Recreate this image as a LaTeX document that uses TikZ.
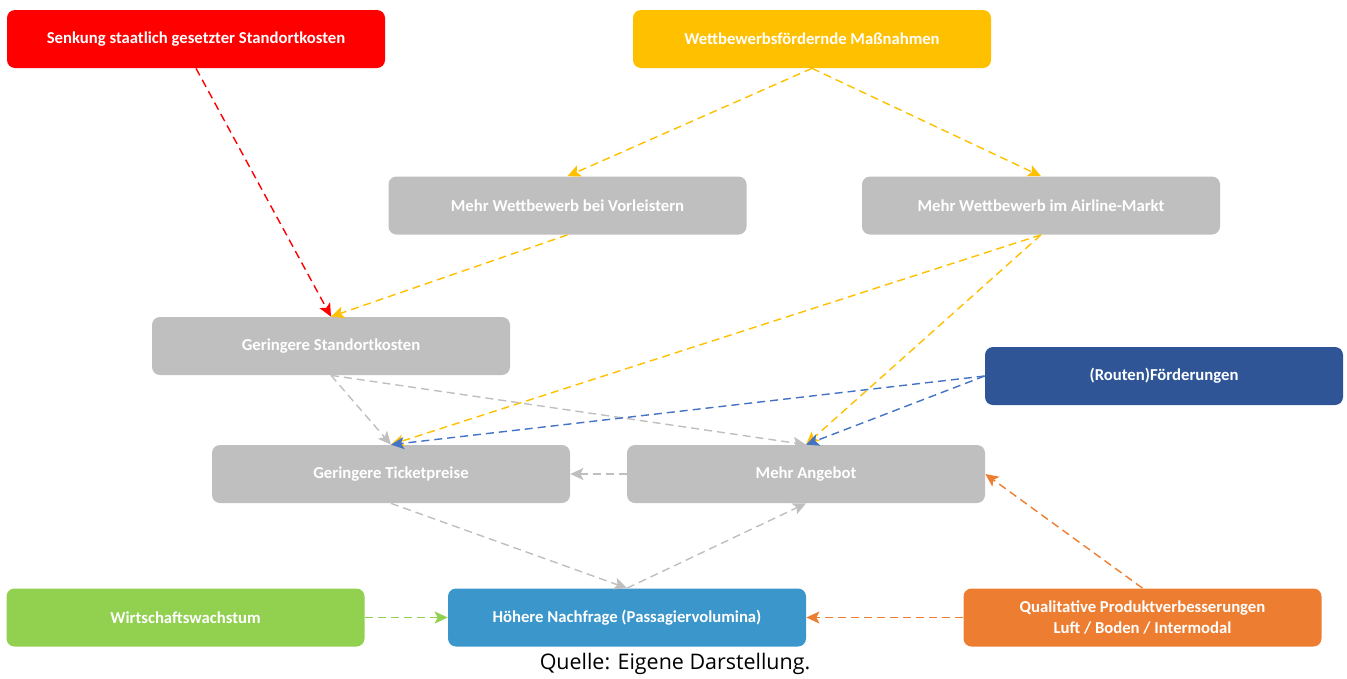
\documentclass[tikz,border=0pt]{standalone}
\usepackage{fontspec}
\setmainfont{Carlito}
\newfontfamily\captionfont{Open Sans}
\usetikzlibrary{arrows.meta}
\definecolor{senkred}{HTML}{FF0000}
\definecolor{wettyellow}{HTML}{FFC000}
\definecolor{boxgray}{HTML}{BFBFBF}
\definecolor{foerdblue}{HTML}{2F5597}
\definecolor{arrowblue}{HTML}{4472C4}
\definecolor{wachsgreen}{HTML}{92D050}
\definecolor{nachfblue}{HTML}{3A96CB}
\definecolor{qualorange}{HTML}{ED7D31}
\begin{document}
\begin{tikzpicture}[
  box/.style={rectangle, rounded corners=0.16cm, minimum width=7.16cm, minimum height=1.16cm,
    text=white, font=\fontsize{9.5}{11.5}\selectfont\bfseries, align=center, inner sep=0pt},
  link/.style={dash pattern=on 1.6mm off 1mm, line width=0.8pt, -{Stealth[length=2.6mm,width=2.4mm,inset=0.6mm]}}]
  \useasboundingbox (0,0) rectangle (26.94,-13.56);
  \node[box, fill=senkred, minimum width=7.56cm] (senk) at (3.92,-0.78) {Senkung staatlich gesetzter Standortkosten};
  \node[box, fill=wettyellow] (wett) at (16.24,-0.78) {Wettbewerbsfördernde Maßnahmen};
  \node[box, fill=boxgray] (vorl) at (11.35,-4.11) {Mehr Wettbewerb bei Vorleistern};
  \node[box, fill=boxgray] (airl) at (20.82,-4.11) {Mehr Wettbewerb im Airline-Markt};
  \node[box, fill=boxgray] (stand) at (6.62,-6.92) {Geringere Standortkosten};
  \node[box, fill=foerdblue] (foerd) at (23.28,-7.52) {(Routen)Förderungen};
  \node[box, fill=boxgray] (ticket) at (7.82,-9.48) {Geringere Ticketpreise};
  \node[box, fill=boxgray] (angebot) at (16.12,-9.48) {Mehr Angebot};
  \node[box, fill=wachsgreen] (wachs) at (3.71,-12.35) {Wirtschaftswachstum};
  \node[box, fill=nachfblue] (nachf) at (12.54,-12.35) {Höhere Nachfrage (Passagiervolumina)};
  \node[box, fill=qualorange] (qual) at (22.85,-12.35) {Qualitative Produktverbesserungen\\Luft / Boden / Intermodal};
  \node[font=\captionfont\fontsize{12.2}{14}\selectfont] (quelle) at (13.5,-13.28) {Quelle: Eigene Darstellung.};

  \draw[link, senkred] (senk.south) -- (stand.north);
  \draw[link, wettyellow] (wett.south) -- (vorl.north);
  \draw[link, wettyellow] (wett.south) -- (airl.north);
  \draw[link, wettyellow] (vorl.south) -- (stand.north);
  \draw[link, wettyellow] (airl.south) -- (ticket.north);
  \draw[link, wettyellow] (airl.south) -- (angebot.north);
  \draw[link, boxgray] (stand.south) -- (ticket.north);
  \draw[link, boxgray] (stand.south) -- (angebot.north);
  \draw[link, arrowblue] (foerd.west) -- (ticket.north);
  \draw[link, arrowblue] (foerd.west) -- (angebot.north);
  \draw[link, boxgray] (angebot.west) -- (ticket.east);
  \draw[link, boxgray] (ticket.south) -- (nachf.north);
  \draw[link, boxgray] (nachf.north) -- (angebot.south);
  \draw[link, wachsgreen] (wachs.east) -- (nachf.west);
  \draw[link, qualorange] (qual.west) -- (nachf.east);
  \draw[link, qualorange] (qual.north) -- (angebot.east);
\end{tikzpicture}
\end{document}
